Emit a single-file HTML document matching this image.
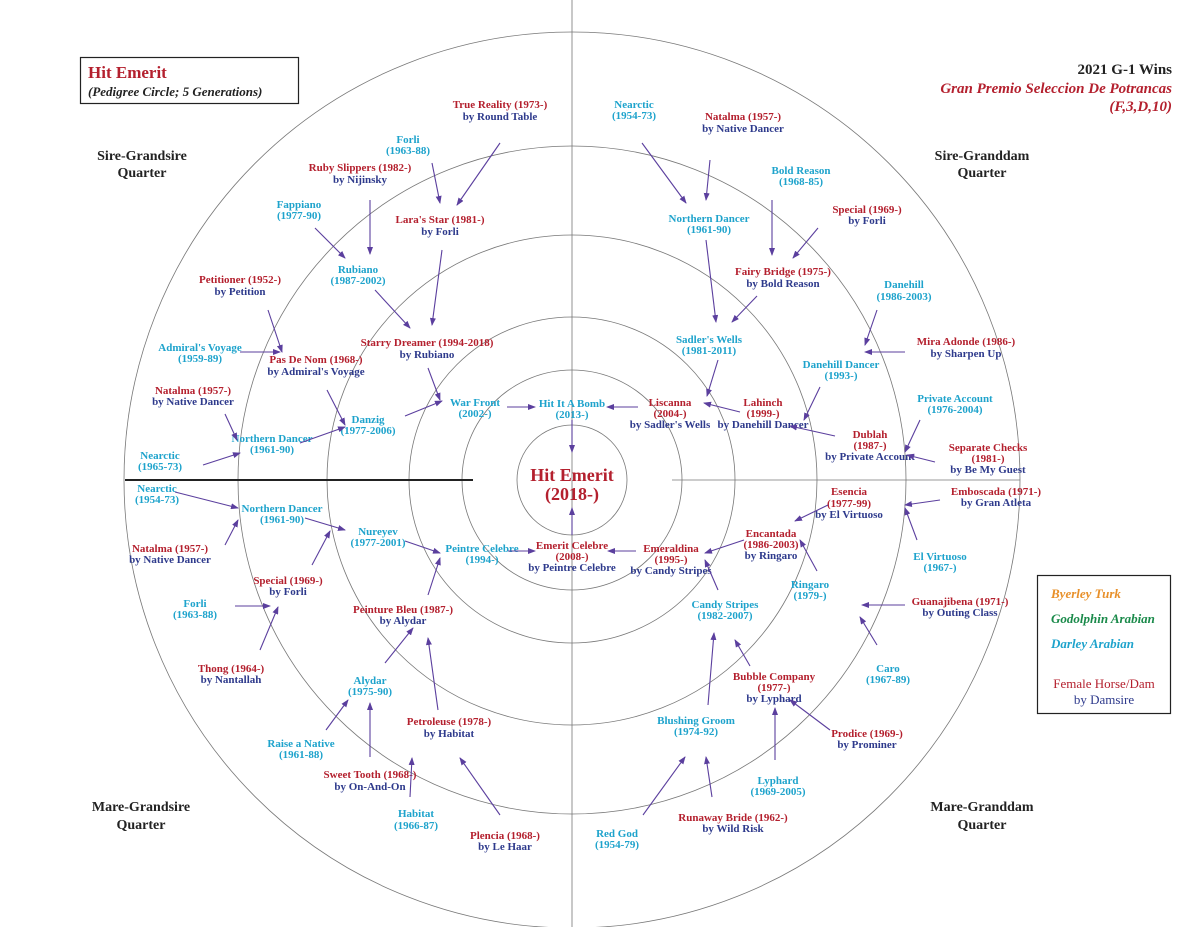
<!DOCTYPE html>
<html><head><meta charset="utf-8"><style>
html,body{margin:0;padding:0;background:#fff}
svg{display:block}
text{font-family:"Liberation Serif",serif;font-weight:bold;font-size:11px;text-anchor:middle}
.r{fill:#b4202e}.c{fill:#1ea3cc}.n{fill:#2e3a8c}.k{fill:#222}
text.q{font-size:14px}
text.lg{font-size:13px;font-style:italic;text-anchor:start}
line.a{stroke:#5b3f9e;stroke-width:1.1;marker-end:url(#ah)}
</style></head><body>
<svg width="1200" height="927" viewBox="0 0 1200 927" xmlns="http://www.w3.org/2000/svg">
<defs><marker id="ah" markerWidth="8" markerHeight="6" refX="7" refY="3" orient="auto" markerUnits="userSpaceOnUse"><path d="M0,0 L8,3 L0,6 z" fill="#5b3f9e"/></marker></defs>
<g fill="none" stroke="#777" stroke-width="0.8">
<circle cx="572" cy="480" r="55"/>
<circle cx="572" cy="480" r="110"/>
<circle cx="572" cy="480" r="163"/>
<circle cx="572" cy="480" r="245"/>
<circle cx="572" cy="480" r="334"/>
<circle cx="572" cy="480" r="448"/>
<line x1="572" y1="0" x2="572" y2="927"/>
<line x1="672" y1="480" x2="1020" y2="480"/>
</g>
<line x1="125" y1="480" x2="473" y2="480" stroke="#222" stroke-width="2"/>

<rect x="80.5" y="57.5" width="218" height="46" fill="none" stroke="#222" stroke-width="1.2"/>
<text x="88" y="78" class="r" style="text-anchor:start;font-size:17px">Hit Emerit</text>
<text x="88" y="96" class="k" style="text-anchor:start;font-size:13px;font-style:italic">(Pedigree Circle; 5 Generations)</text>

<text x="1172" y="74" class="k" style="text-anchor:end;font-size:15px">2021 G-1 Wins</text>
<text x="1172" y="93" class="r" style="text-anchor:end;font-size:15px;font-style:italic">Gran Premio Seleccion De Potrancas</text>
<text x="1172" y="111" class="r" style="text-anchor:end;font-size:15px;font-style:italic">(F,3,D,10)</text>

<text x="142" y="160" class="k q">Sire-Grandsire</text><text x="142" y="177" class="k q">Quarter</text>
<text x="982" y="160" class="k q">Sire-Granddam</text><text x="982" y="177" class="k q">Quarter</text>
<text x="141" y="811" class="k q">Mare-Grandsire</text><text x="141" y="829" class="k q">Quarter</text>
<text x="982" y="811" class="k q">Mare-Granddam</text><text x="982" y="829" class="k q">Quarter</text>

<rect x="1037.5" y="575.5" width="133" height="138" fill="none" stroke="#222" stroke-width="1.2"/>
<text x="1051" y="598" class="lg" style="fill:#e8902a">Byerley Turk</text>
<text x="1051" y="623" class="lg" style="fill:#1a8a4a">Godolphin Arabian</text>
<text x="1051" y="648" class="lg" style="fill:#1ea3cc">Darley Arabian</text>
<text x="1104" y="688" class="r" style="font-weight:normal;font-size:13px">Female Horse/Dam</text>
<text x="1104" y="704" class="n" style="font-weight:normal;font-size:13px">by Damsire</text>

<text x="572" y="481" class="r" style="font-size:18px">Hit Emerit</text>
<text x="572" y="500" class="r" style="font-size:18px">(2018-)</text>

<text x="572" y="407" class="c">Hit It A Bomb</text><text x="572" y="418" class="c">(2013-)</text>
<text x="572" y="549" class="r">Emerit Celebre</text><text x="572" y="560" class="r">(2008-)</text><text x="572" y="571" class="n">by Peintre Celebre</text>
<text x="475" y="406" class="c">War Front</text><text x="475" y="417" class="c">(2002-)</text>
<text x="670" y="406" class="r">Liscanna</text><text x="670" y="417" class="r">(2004-)</text><text x="670" y="428" class="n">by Sadler's Wells</text>
<text x="482" y="552" class="c">Peintre Celebre</text><text x="482" y="563" class="c">(1994-)</text>
<text x="671" y="552" class="r">Emeraldina</text><text x="671" y="563" class="r">(1995-)</text><text x="671" y="574" class="n">by Candy Stripes</text>
<text x="368" y="423" class="c">Danzig</text><text x="368" y="434" class="c">(1977-2006)</text>
<text x="427" y="346" class="r">Starry Dreamer (1994-2018)</text><text x="427" y="358" class="n">by Rubiano</text>
<text x="709" y="343" class="c">Sadler's Wells</text><text x="709" y="354" class="c">(1981-2011)</text>
<text x="763" y="406" class="r">Lahinch</text><text x="763" y="417" class="r">(1999-)</text><text x="763" y="428" class="n">by Danehill Dancer</text>
<text x="378" y="535" class="c">Nureyev</text><text x="378" y="546" class="c">(1977-2001)</text>
<text x="403" y="613" class="r">Peinture Bleu (1987-)</text><text x="403" y="624" class="n">by Alydar</text>
<text x="771" y="537" class="r">Encantada</text><text x="771" y="548" class="r">(1986-2003)</text><text x="771" y="559" class="n">by Ringaro</text>
<text x="725" y="608" class="c">Candy Stripes</text><text x="725" y="619" class="c">(1982-2007)</text>
<text x="358" y="273" class="c">Rubiano</text><text x="358" y="284" class="c">(1987-2002)</text>
<text x="440" y="223" class="r">Lara's Star (1981-)</text><text x="440" y="235" class="n">by Forli</text>
<text x="709" y="222" class="c">Northern Dancer</text><text x="709" y="233" class="c">(1961-90)</text>
<text x="783" y="275" class="r">Fairy Bridge (1975-)</text><text x="783" y="287" class="n">by Bold Reason</text>
<text x="841" y="368" class="c">Danehill Dancer</text><text x="841" y="379" class="c">(1993-)</text>
<text x="870" y="438" class="r">Dublah</text><text x="870" y="449" class="r">(1987-)</text><text x="870" y="460" class="n">by Private Account</text>
<text x="316" y="363" class="r">Pas De Nom (1968-)</text><text x="316" y="375" class="n">by Admiral's Voyage</text>
<text x="272" y="442" class="c">Northern Dancer</text><text x="272" y="453" class="c">(1961-90)</text>
<text x="282" y="512" class="c">Northern Dancer</text><text x="282" y="523" class="c">(1961-90)</text>
<text x="288" y="584" class="r">Special (1969-)</text><text x="288" y="595" class="n">by Forli</text>
<text x="370" y="684" class="c">Alydar</text><text x="370" y="695" class="c">(1975-90)</text>
<text x="449" y="725" class="r">Petroleuse (1978-)</text><text x="449" y="737" class="n">by Habitat</text>
<text x="849" y="495" class="r">Esencia</text><text x="849" y="507" class="r">(1977-99)</text><text x="849" y="518" class="n">by El Virtuoso</text>
<text x="810" y="588" class="c">Ringaro</text><text x="810" y="599" class="c">(1979-)</text>
<text x="774" y="680" class="r">Bubble Company</text><text x="774" y="691" class="r">(1977-)</text><text x="774" y="702" class="n">by Lyphard</text>
<text x="696" y="724" class="c">Blushing Groom</text><text x="696" y="735" class="c">(1974-92)</text>
<text x="500" y="108" class="r">True Reality (1973-)</text><text x="500" y="120" class="n">by Round Table</text>
<text x="408" y="143" class="c">Forli</text><text x="408" y="154" class="c">(1963-88)</text>
<text x="360" y="171" class="r">Ruby Slippers (1982-)</text><text x="360" y="183" class="n">by Nijinsky</text>
<text x="299" y="208" class="c">Fappiano</text><text x="299" y="219" class="c">(1977-90)</text>
<text x="240" y="283" class="r">Petitioner (1952-)</text><text x="240" y="295" class="n">by Petition</text>
<text x="200" y="351" class="c">Admiral's Voyage</text><text x="200" y="362" class="c">(1959-89)</text>
<text x="193" y="394" class="r">Natalma (1957-)</text><text x="193" y="405" class="n">by Native Dancer</text>
<text x="160" y="459" class="c">Nearctic</text><text x="160" y="470" class="c">(1965-73)</text>
<text x="157" y="492" class="c">Nearctic</text><text x="157" y="503" class="c">(1954-73)</text>
<text x="170" y="552" class="r">Natalma (1957-)</text><text x="170" y="563" class="n">by Native Dancer</text>
<text x="195" y="607" class="c">Forli</text><text x="195" y="618" class="c">(1963-88)</text>
<text x="231" y="672" class="r">Thong (1964-)</text><text x="231" y="683" class="n">by Nantallah</text>
<text x="301" y="747" class="c">Raise a Native</text><text x="301" y="758" class="c">(1961-88)</text>
<text x="370" y="778" class="r">Sweet Tooth (1968-)</text><text x="370" y="790" class="n">by On-And-On</text>
<text x="416" y="817" class="c">Habitat</text><text x="416" y="829" class="c">(1966-87)</text>
<text x="505" y="839" class="r">Plencia (1968-)</text><text x="505" y="850" class="n">by Le Haar</text>
<text x="617" y="837" class="c">Red God</text><text x="617" y="848" class="c">(1954-79)</text>
<text x="733" y="821" class="r">Runaway Bride (1962-)</text><text x="733" y="832" class="n">by Wild Risk</text>
<text x="778" y="784" class="c">Lyphard</text><text x="778" y="795" class="c">(1969-2005)</text>
<text x="867" y="737" class="r">Prodice (1969-)</text><text x="867" y="748" class="n">by Prominer</text>
<text x="888" y="672" class="c">Caro</text><text x="888" y="683" class="c">(1967-89)</text>
<text x="960" y="605" class="r">Guanajibena (1971-)</text><text x="960" y="616" class="n">by Outing Class</text>
<text x="940" y="560" class="c">El Virtuoso</text><text x="940" y="571" class="c">(1967-)</text>
<text x="996" y="495" class="r">Emboscada (1971-)</text><text x="996" y="506" class="n">by Gran Atleta</text>
<text x="988" y="451" class="r">Separate Checks</text><text x="988" y="462" class="r">(1981-)</text><text x="988" y="473" class="n">by Be My Guest</text>
<text x="955" y="402" class="c">Private Account</text><text x="955" y="413" class="c">(1976-2004)</text>
<text x="966" y="345" class="r">Mira Adonde (1986-)</text><text x="966" y="357" class="n">by Sharpen Up</text>
<text x="904" y="288" class="c">Danehill</text><text x="904" y="300" class="c">(1986-2003)</text>
<text x="867" y="213" class="r">Special (1969-)</text><text x="867" y="224" class="n">by Forli</text>
<text x="801" y="174" class="c">Bold Reason</text><text x="801" y="185" class="c">(1968-85)</text>
<text x="743" y="120" class="r">Natalma (1957-)</text><text x="743" y="132" class="n">by Native Dancer</text>
<text x="634" y="108" class="c">Nearctic</text><text x="634" y="119" class="c">(1954-73)</text>

<g>
<line class="a" x1="572" y1="420" x2="572" y2="452"/>
<line class="a" x1="572" y1="535" x2="572" y2="508"/>
<line class="a" x1="507" y1="407" x2="535" y2="407"/>
<line class="a" x1="638" y1="407" x2="607" y2="407"/>
<line class="a" x1="508" y1="551" x2="535" y2="551"/>
<line class="a" x1="636" y1="551" x2="608" y2="551"/>
<line class="a" x1="405" y1="416" x2="442" y2="401"/>
<line class="a" x1="428" y1="368" x2="440" y2="400"/>
<line class="a" x1="718" y1="360" x2="707" y2="396"/>
<line class="a" x1="740" y1="412" x2="704" y2="403"/>
<line class="a" x1="405" y1="541" x2="440" y2="553"/>
<line class="a" x1="428" y1="595" x2="440" y2="558"/>
<line class="a" x1="744" y1="540" x2="705" y2="553"/>
<line class="a" x1="718" y1="590" x2="705" y2="560"/>
<line class="a" x1="375" y1="290" x2="410" y2="328"/>
<line class="a" x1="442" y1="250" x2="432" y2="325"/>
<line class="a" x1="706" y1="240" x2="716" y2="322"/>
<line class="a" x1="757" y1="296" x2="732" y2="322"/>
<line class="a" x1="820" y1="387" x2="804" y2="420"/>
<line class="a" x1="835" y1="436" x2="790" y2="426"/>
<line class="a" x1="327" y1="390" x2="345" y2="425"/>
<line class="a" x1="300" y1="443" x2="345" y2="427"/>
<line class="a" x1="305" y1="518" x2="345" y2="530"/>
<line class="a" x1="312" y1="565" x2="330" y2="531"/>
<line class="a" x1="385" y1="663" x2="413" y2="628"/>
<line class="a" x1="438" y1="710" x2="428" y2="638"/>
<line class="a" x1="828" y1="505" x2="795" y2="521"/>
<line class="a" x1="817" y1="571" x2="800" y2="540"/>
<line class="a" x1="750" y1="666" x2="735" y2="640"/>
<line class="a" x1="708" y1="705" x2="714" y2="633"/>
<line class="a" x1="500" y1="143" x2="457" y2="205"/>
<line class="a" x1="432" y1="163" x2="440" y2="203"/>
<line class="a" x1="370" y1="200" x2="370" y2="254"/>
<line class="a" x1="315" y1="228" x2="345" y2="258"/>
<line class="a" x1="268" y1="310" x2="282" y2="352"/>
<line class="a" x1="240" y1="352" x2="280" y2="352"/>
<line class="a" x1="225" y1="414" x2="237" y2="440"/>
<line class="a" x1="203" y1="465" x2="240" y2="453"/>
<line class="a" x1="175" y1="492" x2="238" y2="508"/>
<line class="a" x1="225" y1="545" x2="238" y2="520"/>
<line class="a" x1="235" y1="606" x2="270" y2="606"/>
<line class="a" x1="260" y1="650" x2="278" y2="607"/>
<line class="a" x1="326" y1="730" x2="348" y2="700"/>
<line class="a" x1="370" y1="757" x2="370" y2="703"/>
<line class="a" x1="410" y1="797" x2="412" y2="758"/>
<line class="a" x1="500" y1="815" x2="460" y2="758"/>
<line class="a" x1="643" y1="815" x2="685" y2="757"/>
<line class="a" x1="712" y1="797" x2="706" y2="757"/>
<line class="a" x1="775" y1="760" x2="775" y2="708"/>
<line class="a" x1="830" y1="730" x2="790" y2="700"/>
<line class="a" x1="877" y1="645" x2="860" y2="617"/>
<line class="a" x1="905" y1="605" x2="862" y2="605"/>
<line class="a" x1="917" y1="540" x2="905" y2="508"/>
<line class="a" x1="940" y1="500" x2="905" y2="505"/>
<line class="a" x1="935" y1="462" x2="907" y2="455"/>
<line class="a" x1="920" y1="420" x2="905" y2="452"/>
<line class="a" x1="905" y1="352" x2="865" y2="352"/>
<line class="a" x1="877" y1="310" x2="865" y2="345"/>
<line class="a" x1="818" y1="228" x2="793" y2="258"/>
<line class="a" x1="772" y1="200" x2="772" y2="255"/>
<line class="a" x1="710" y1="160" x2="706" y2="200"/>
<line class="a" x1="642" y1="143" x2="686" y2="203"/>
</g>
</svg>
</body></html>
